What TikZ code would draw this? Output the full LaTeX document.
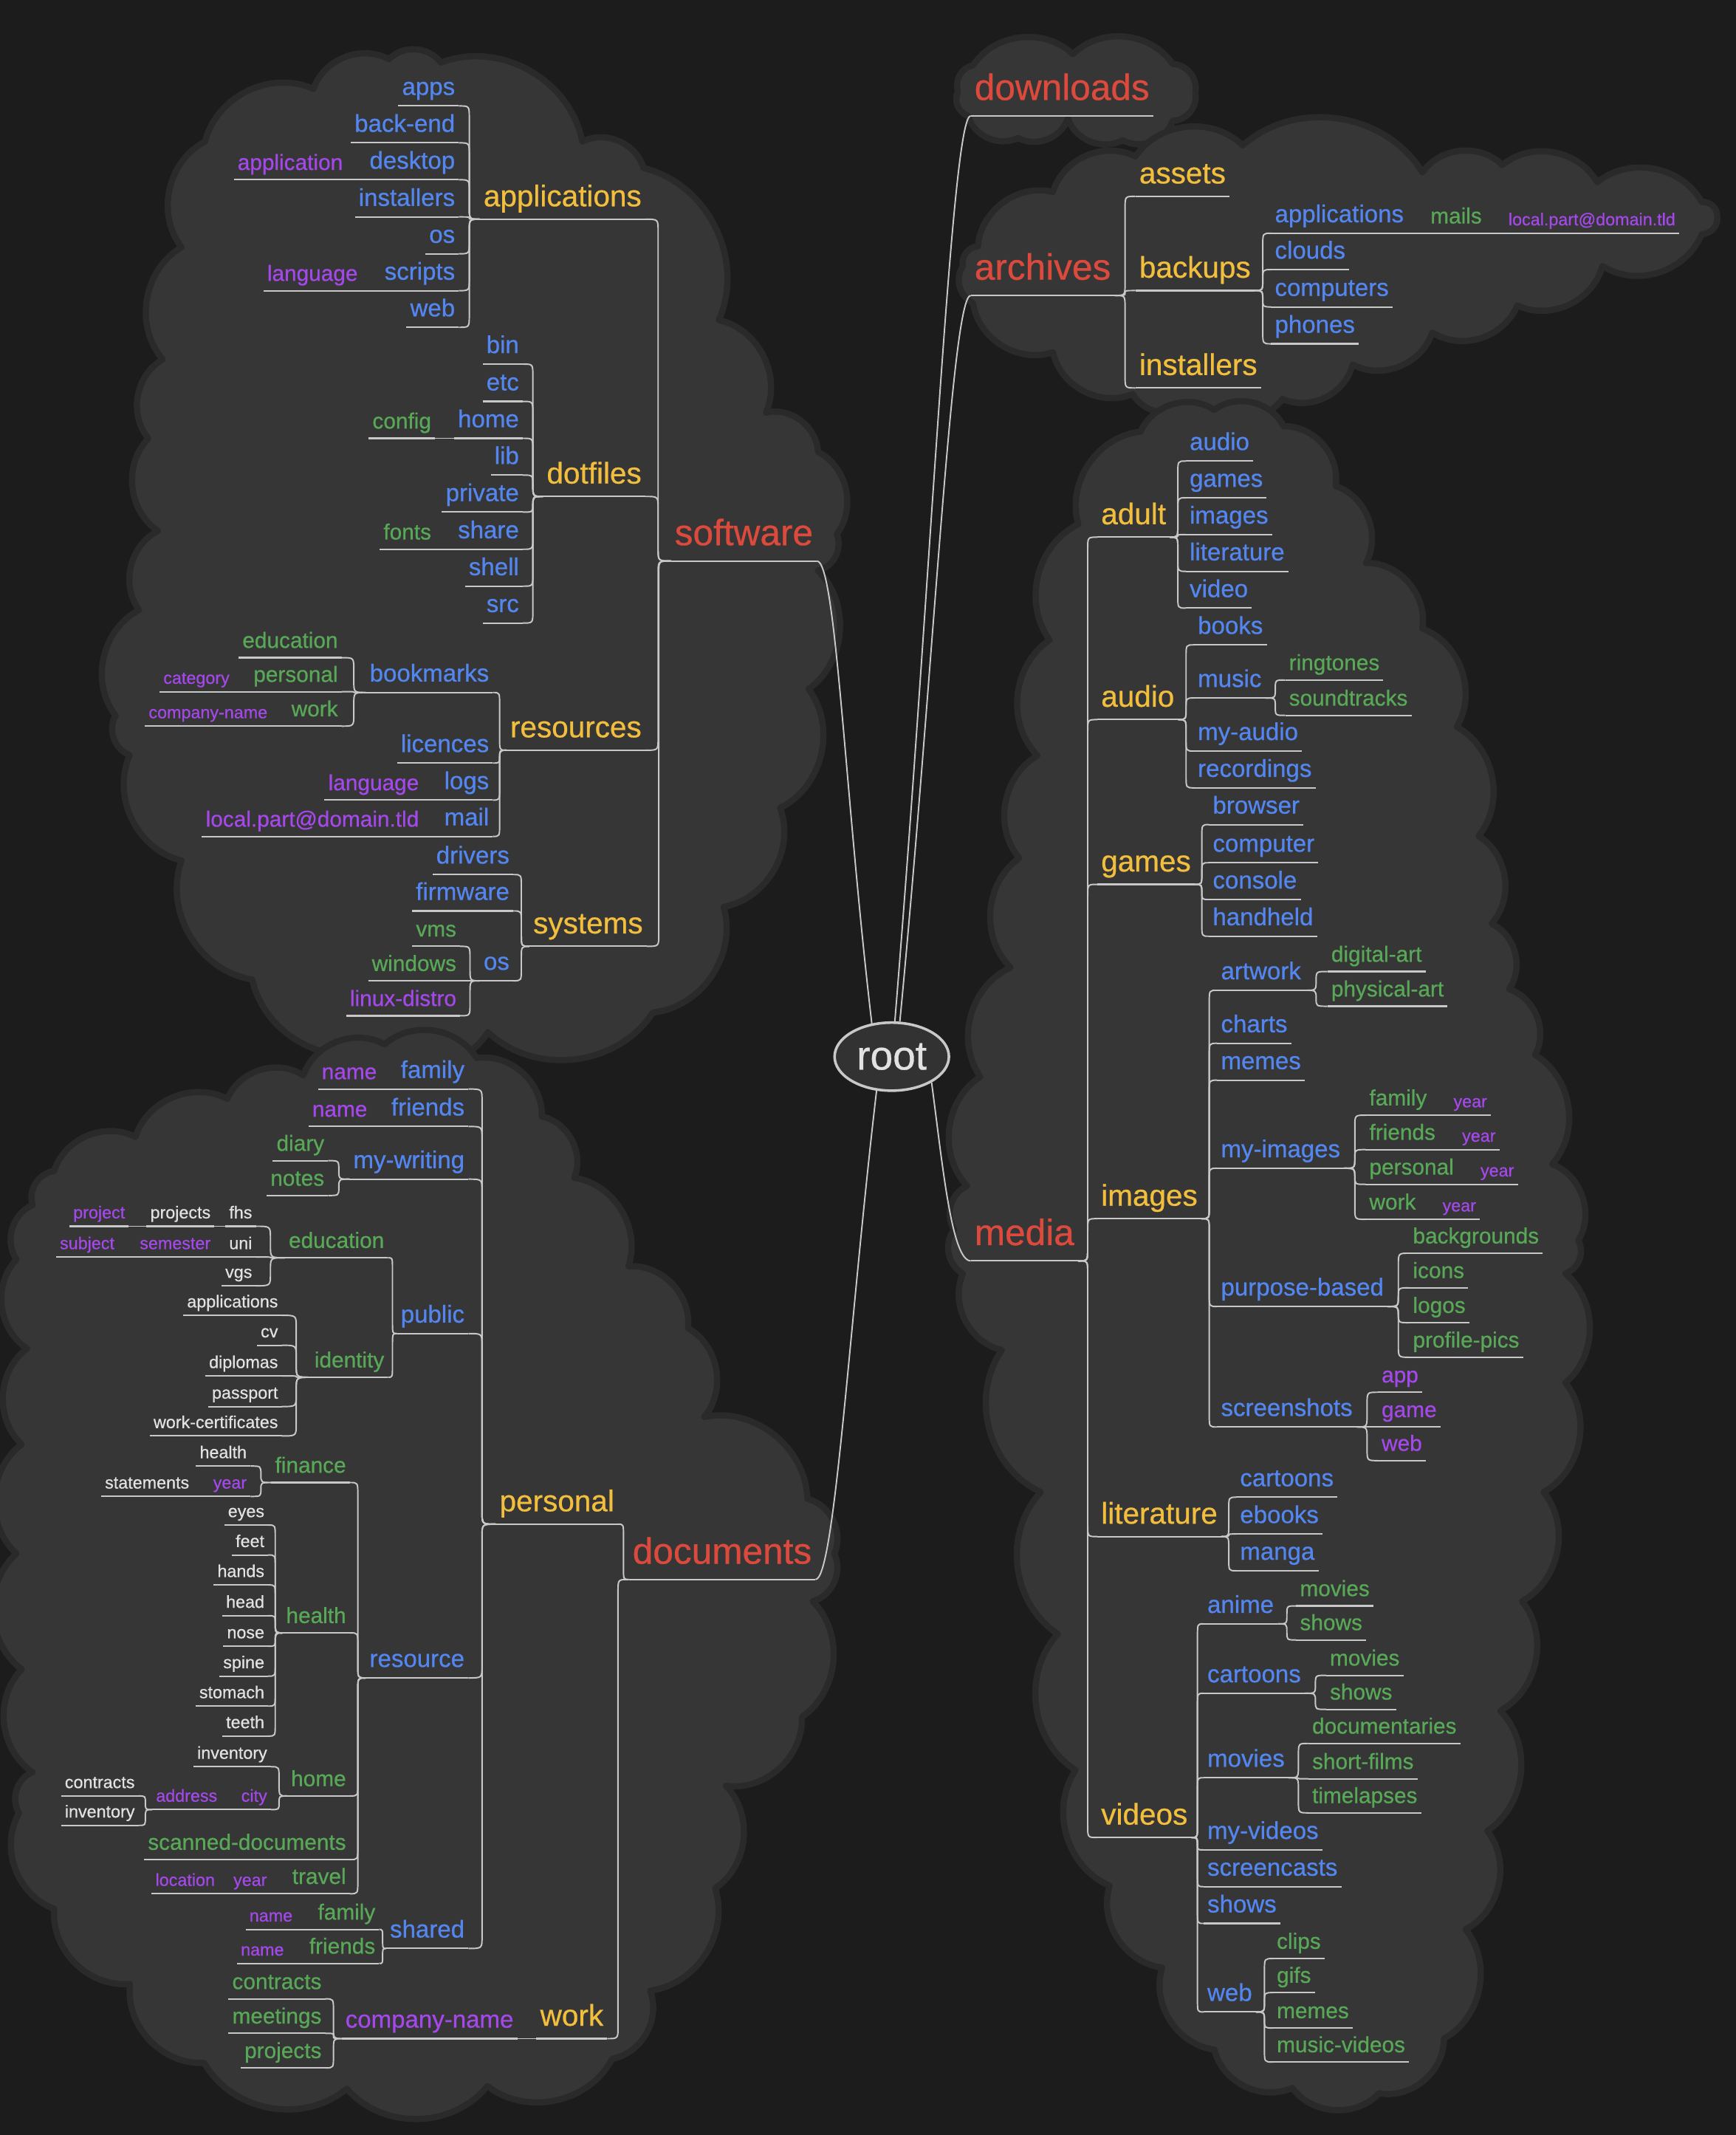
\documentclass[tikz,border=0pt]{standalone}
\usepackage{fontspec}
\setmainfont{Liberation Sans}[UprightFeatures={FakeBold=0.6}]
\usetikzlibrary{calc,positioning,shapes.geometric}
\definecolor{mmbg}{RGB}{28,28,28}
\definecolor{mmcloud}{RGB}{54,54,54}
\definecolor{mmrim}{RGB}{42,42,42}
\definecolor{mmwire}{RGB}{200,200,200}
\definecolor{mmred}{RGB}{219,74,60}
\definecolor{mmyellow}{RGB}{241,190,62}
\definecolor{mmblue}{RGB}{84,134,240}
\definecolor{mmgreen}{RGB}{88,168,88}
\definecolor{mmpurple}{RGB}{164,72,234}
\definecolor{mmwhite}{RGB}{226,226,226}
\definecolor{mmroot}{RGB}{50,50,50}
\tikzset{
  uline/.style={draw=mmwire,line width=0.65pt},
  wire/.style={draw=mmwire,line width=0.6pt},
  tag/.style={inner xsep=1.4pt,inner ysep=0pt,
    append after command={\pgfextra{\draw[uline] (\tikzlastnode.south west) -- (\tikzlastnode.south east);}}},
  lt/.style={tag,anchor=south east},
  rt/.style={tag,anchor=south west},
  lone/.style={font=\fontsize{15.3}{18}\selectfont,text depth=6.4pt,text=mmred},
  ltwo/.style={font=\fontsize{12.5}{15}\selectfont,text depth=5.2pt,text=mmyellow},
  lthree/.style={font=\fontsize{10.2}{12}\selectfont,text depth=4.4pt,text=mmblue},
  lfour/.style={font=\fontsize{9.2}{11}\selectfont,text depth=3.9pt,text=mmgreen},
  lfive/.style={font=\fontsize{7.2}{9}\selectfont,text depth=3.1pt,text=mmwhite},
  vpur/.style={text=mmpurple},
  link/.style={wire,to path={let \p1=(\tikztostart), \p2=(\tikztotarget),
      \n1={(\x2-\x1)/2}, \n2={ifthenelse(\y2>\y1,1,-1)*min(5pt,abs(\y2-\y1)/2)} in
      .. controls (\x1+\n1,\y1) .. (\x1+\n1,\y1+\n2)
      -- (\x1+\n1,\y2-\n2)
      .. controls (\x1+\n1,\y2) .. (\tikztotarget)}},
  puff/.style={fill=mmcloud,draw=mmrim,line width=2.6pt,line join=round},
  rootnode/.style={ellipse,draw=mmwire,line width=1.1pt,fill=mmroot,text=mmwhite,
    minimum width=1.68cm,minimum height=1cm,inner sep=0pt,font=\fontsize{17}{20}\selectfont}
}

\begin{document}
\begin{tikzpicture}[x=0.02cm,y=-0.02cm]
  \useasboundingbox (0,0) rectangle (1275,1568);
  \fill[mmbg] (0,0) rectangle (1275,1568);

  % clouds
  \filldraw[puff] (285.7,43.5) \foreach \x/\y in {323.8/46,427.7/104,472.7/123.4,528/235,562.7/303,600.8/331.8,614.6/392.3,600.8/419,593.9/506,573/593.4,531.5/666,479.6/743.6,358.4/758,282.2/770,185.3/719.4,133.3/632,95.3/554.6,84.9/525.6,102.2/448,116/390,109/322,119.5/264,133.3/181.6,150.6/104,230.3/65.3,285.7/43.5} { to[bend left=50] (\x,\y) } -- cycle;
  \filldraw[puff] (282.5,767) \foreach \x/\y in {350/777,398/820,421.8/865,461.6/930,505.4/975.4,517.3/1040.6,593/1100.8,612.8/1141,597/1176,589/1261,533.2/1311.5,525.3/1386.8,477.5/1462,449.7/1512,358/1532,254.7/1534,150/1515,95.5/1457,39.8/1401.8,14/1331.6,23.9/1301.5,15.9/1226,12/1141,15.9/1060.7,19.9/990.4,12/925,23.9/885,39.8/860,99.5/835,167/807,222.8/789.7,282.5/767} { to[bend left=50] (\x,\y) } -- cycle;
  \filldraw[puff] (714.7,48) \foreach \x/\y in {788/39.8,861.4/47,878/67.9,861.4/88.7,824.7/103,784.4/86.9,747.7/101.3,711/85,703.7/67,714.7/48} { to[bend left=50] (\x,\y) } -- cycle;
  \filldraw[puff] (773.4,141) \foreach \x/\y in {833.9/114.9,912.8/106.8,1044.8/126.6,1103.5/121.2,1173.2/133.9,1250/148.4,1261.3/159,1250/171.9,1177/195.4,1114.5/224.3,1052/244.2,993.5/267.7,942/293,876/296.7,832/289.4,773.4/258.7,714.7/222.5,707.3/195.4,718.3/180.9,773.4/141} { to[bend left=50] (\x,\y) } -- cycle;
  \filldraw[puff] (837.8,317) \foreach \x/\y in {891.9/301,942.8/313,981/357,1003.3/413.4,1044.7/461.6,1070/533.8,1086/614,1095.6/678.4,1108.4/726.5,1127.5/774.7,1140.2/855,1159.3/911,1149.8/935.3,1149.8/1015.5,1133.8/1095.8,1118/1176,1102/1256.4,1092.5/1344.7,1076.5/1417,1060.6/1497.2,1012.9/1537.4,949.2/1533.4,891.9/1505.3,853.7/1445,815/1385,790/1300,777/1200,764.5/1095.8,735.9/991.5,707.2/935.3,700.9/903,710.4/871,720/790.8,742.3/710.5,748.6/630.2,762/555,771/470,792/385,837.8/317} { to[bend left=50] (\x,\y) } -- cycle;

  \node[rootnode] (root) at (655,776) {root};

  % software
  \node[lt,lone] (software) at (600,412) {software};
  \node[lt,ltwo] (applications) at (474,161) {applications};
  \node[lt,ltwo] (dotfiles) at (474,364.6) {dotfiles};
  \node[lt,ltwo] (resources) at (474,551) {resources};
  \node[lt,ltwo] (systems) at (475,695) {systems};
  \node[lt,lthree] (apps) at (337,77.8) {apps};
  \node[lt,lthree] (backend) at (337,104.9) {back-end};
  \node[lt,lthree] (desktop) at (337,132) {desktop};
  \node[lt,lthree] (installers) at (337,159.3) {installers};
  \node[lt,lthree] (appos) at (337,186.4) {os};
  \node[lt,lthree] (scripts) at (337,213.5) {scripts};
  \node[lt,lthree] (appweb) at (337,240.4) {web};
  \node[lt,lfour,vpur] (application) at ([xshift=-0.28cm]desktop.south west) {application};
  \node[lt,lfour,vpur] (sclang) at ([xshift=-0.28cm]scripts.south west) {language};
  \node[lt,lthree] (bin) at (384,267.4) {bin};
  \node[lt,lthree] (etc) at (384,294.8) {etc};
  \node[lt,lthree] (home) at (384,321.9) {home};
  \node[lt,lthree] (lib) at (384,348.9) {lib};
  \node[lt,lthree] (private) at (384,376.1) {private};
  \node[lt,lthree] (share) at (384,403.4) {share};
  \node[lt,lthree] (shell) at (384,430.5) {shell};
  \node[lt,lthree] (src) at (384,457.6) {src};
  \node[lt,lfour] (config) at ([xshift=-0.28cm]home.south west) {config};
  \node[lt,lfour] (fonts) at ([xshift=-0.28cm]share.south west) {fonts};
  \node[lt,lthree] (bookmarks) at (362,508.6) {bookmarks};
  \node[lt,lthree] (licences) at (362,560.4) {licences};
  \node[lt,lthree] (logs) at (362,587.6) {logs};
  \node[lt,lthree] (mail) at (362,614.3) {mail};
  \node[lt,lfour] (beducation) at (251,483) {education};
  \node[lt,lfour] (bpersonal) at (251,508) {personal};
  \node[lt,lfour] (bwork) at (251,533.3) {work};
  \node[lt,lfive,vpur] (category) at ([xshift=-0.24cm]bpersonal.south west) {category};
  \node[lt,lfive,vpur] (company) at ([xshift=-0.24cm]bwork.south west) {company-name};
  \node[lt,lfour,vpur] (language) at ([xshift=-0.26cm]logs.south west) {language};
  \node[lt,lfour,vpur] (localpart) at ([xshift=-0.26cm]mail.south west) {local.part@domain.tld};
  \node[lt,lthree] (drivers) at (377,642.3) {drivers};
  \node[lt,lthree] (firmware) at (377,669) {firmware};
  \node[lt,lthree] (sysos) at (377,720.3) {os};
  \node[lt,lfour] (vms) at (338,695) {vms};
  \node[lt,lfour] (windows) at (338,720.3) {windows};
  \node[lt,lfour,vpur] (linux) at (338,746) {linux-distro};

  % documents
  \node[lt,lone] (documents) at (599,1160) {documents};
  \node[lt,ltwo] (dpersonal) at (454,1119.4) {personal};
  \node[lt,ltwo] (dwork) at (446,1497.2) {work};
  \node[lt,lthree] (pfamily) at (344,799.8) {family};
  \node[lt,lthree] (pfriends) at (344,827.3) {friends};
  \node[lt,lthree] (mywriting) at (344,866) {my-writing};
  \node[lt,lthree] (public) at (344,979.4) {public};
  \node[lt,lthree] (resource) at (344,1232.3) {resource};
  \node[lt,lthree] (shared) at (344,1431) {shared};
  \node[lt,lfour,vpur] (pname1) at ([xshift=-0.24cm]pfamily.south west) {name};
  \node[lt,lfour,vpur] (pname2) at ([xshift=-0.24cm]pfriends.south west) {name};
  \node[lt,lfour] (diary) at (241,852.4) {diary};
  \node[lt,lfour] (notes) at (241,878) {notes};
  \node[lt,lfour] (deducation) at (285,923.7) {education};
  \node[lt,lfour] (identity) at (285,1011.5) {identity};
  \node[lt,lfive] (fhs) at (188,900.6) {fhs};
  \node[lt,lfive] (uni) at (188,923.2) {uni};
  \node[lt,lfive] (vgs) at (188,944.3) {vgs};
  \node[lt,lfive] (projects) at ([xshift=-0.16cm]fhs.south west) {projects};
  \node[lt,lfive,vpur] (project) at ([xshift=-0.26cm]projects.south west) {project};
  \node[lt,lfive,vpur] (semester) at ([xshift=-0.16cm]uni.south west) {semester};
  \node[lt,lfive,vpur] (subject) at ([xshift=-0.26cm]semester.south west) {subject};
  \node[lt,lfive] (iapps) at (207,966) {applications};
  \node[lt,lfive] (cv) at (207,988) {cv};
  \node[lt,lfive] (diplomas) at (207,1010.5) {diplomas};
  \node[lt,lfive] (passport) at (207,1033) {passport};
  \node[lt,lfive] (workcert) at (207,1054.6) {work-certificates};
  \node[lt,lfour] (finance) at (257,1088.8) {finance};
  \node[lt,lfour] (rhealth) at (257,1199.2) {health};
  \node[lt,lfour] (rhome) at (257,1319) {home};
  \node[lt,lfour] (scanned) at (257,1365.7) {scanned-documents};
  \node[lt,lfour] (travel) at (257,1390.8) {travel};
  \node[lt,lfive] (fhealth) at (184,1076.7) {health};
  \node[lt,lfive,vpur] (fyear) at (184,1099) {year};
  \node[lt,lfive] (statements) at ([xshift=-0.24cm]fyear.south west) {statements};
  \node[lt,lfive] (eyes) at (197,1120) {eyes};
  \node[lt,lfive] (feet) at (197,1142) {feet};
  \node[lt,lfive] (hands) at (197,1164) {hands};
  \node[lt,lfive] (head) at (197,1186.6) {head};
  \node[lt,lfive] (nose) at (197,1209) {nose};
  \node[lt,lfive] (spine) at (197,1231) {spine};
  \node[lt,lfive] (stomach) at (197,1253) {stomach};
  \node[lt,lfive] (teeth) at (197,1275) {teeth};
  \node[lt,lfive] (hinventory) at (199,1297.5) {inventory};
  \node[lt,lfive,vpur] (city) at (199,1329) {city};
  \node[lt,lfive,vpur] (address) at ([xshift=-0.24cm]city.south west) {address};
  \node[lt,lfive] (contracts) at ([shift={(-10,-10)}]address.south west) {contracts};
  \node[lt,lfive] (ainventory) at ([shift={(-10,11.6)}]address.south west) {inventory};
  \node[lt,lfive,vpur] (tyear) at ([xshift=-0.26cm]travel.south west) {year};
  \node[lt,lfive,vpur] (location) at ([xshift=-0.16cm]tyear.south west) {location};
  \node[lt,lfour] (sfamily) at (278.5,1417) {family};
  \node[lt,lfour] (sfriends) at (278.5,1442) {friends};
  \node[lt,lfive,vpur] (sname1) at ([xshift=-0.26cm]sfamily.south west) {name};
  \node[lt,lfive,vpur] (sname2) at ([xshift=-0.26cm]sfriends.south west) {name};
  \node[lt,lthree,vpur] (wcompany) at ([xshift=-0.28cm]dwork.south west) {company-name};
  \node[lt,lfour] (wcontracts) at (239,1468) {contracts};
  \node[lt,lfour] (meetings) at (239,1493.3) {meetings};
  \node[lt,lfour] (wprojects) at (239,1518.7) {projects};

  % downloads, archives
  \node[rt,lone] (downloads) at (713,85) {downloads};
  \node[rt,lone] (archives) at (713,217) {archives};
  \node[rt,ltwo] (assets) at (834,144.2) {assets};
  \node[rt,ltwo] (backups) at (834,213.4) {backups};
  \node[rt,ltwo] (ainstallers) at (834,284.9) {installers};
  \node[rt,lthree] (bapps) at (933.6,171.3) {applications};
  \node[rt,lthree] (clouds) at (933.6,198) {clouds};
  \node[rt,lthree] (computers) at (933.6,225.4) {computers};
  \node[rt,lthree] (phones) at (933.6,252.5) {phones};
  \node[rt,lfour] (mails) at ([xshift=0.28cm]bapps.south east) {mails};
  \node[rt,lfive,vpur] (amail) at ([xshift=0.28cm]mails.south east) {local.part@domain.tld};

  % media
  \node[rt,lone] (media) at (713,926) {media};
  \node[rt,ltwo] (adult) at (806,394.5) {adult};
  \node[rt,ltwo] (maudio) at (806,528.5) {audio};
  \node[rt,ltwo] (mgames) at (806,649.5) {games};
  \node[rt,ltwo] (mimages) at (806,895) {images};
  \node[rt,ltwo] (mlit) at (806,1128.5) {literature};
  \node[rt,ltwo] (videos) at (806,1349.5) {videos};
  \node[rt,lthree] (aaudio) at (871,338.6) {audio};
  \node[rt,lthree] (agames) at (871,365.6) {games};
  \node[rt,lthree] (aimages) at (871,392.6) {images};
  \node[rt,lthree] (alit) at (871,419.6) {literature};
  \node[rt,lthree] (avideo) at (871,446.6) {video};
  \node[rt,lthree] (books) at (877,473.6) {books};
  \node[rt,lthree] (music) at (877,512.6) {music};
  \node[rt,lthree] (myaudio) at (877,551.6) {my-audio};
  \node[rt,lthree] (recordings) at (877,578.6) {recordings};
  \node[rt,lfour] (ringtones) at (944,499.4) {ringtones};
  \node[rt,lfour] (soundtracks) at (944,525.4) {soundtracks};
  \node[rt,lthree] (browser) at (888,605.6) {browser};
  \node[rt,lthree] (computer) at (888,633.6) {computer};
  \node[rt,lthree] (console) at (888,660.6) {console};
  \node[rt,lthree] (handheld) at (888,687.6) {handheld};
  \node[rt,lthree] (artwork) at (894,727.3) {artwork};
  \node[rt,lthree] (charts) at (894,766.2) {charts};
  \node[rt,lthree] (memes) at (894,793.3) {memes};
  \node[rt,lthree] (myimages) at (894,858) {my-images};
  \node[rt,lthree] (purpose) at (894,959.5) {purpose-based};
  \node[rt,lthree] (screenshots) at (894,1048) {screenshots};
  \node[rt,lfour] (digitalart) at (975,713.5) {digital-art};
  \node[rt,lfour] (physicalart) at (975,739) {physical-art};
  \node[rt,lfour] (ifamily) at (1003,819) {family};
  \node[rt,lfour] (ifriends) at (1003,844.3) {friends};
  \node[rt,lfour] (ipersonal) at (1003,869.8) {personal};
  \node[rt,lfour] (iwork) at (1003,895.5) {work};
  \foreach \up in {ifamily,ifriends,ipersonal,iwork}
    \node[rt,lfive,vpur] (y\up) at ([xshift=0.28cm]\up.south east) {year};
  \node[rt,lfour] (backgrounds) at (1035,920.4) {backgrounds};
  \node[rt,lfour] (icons) at (1035,945.8) {icons};
  \node[rt,lfour] (logos) at (1035,971.4) {logos};
  \node[rt,lfour] (profilepics) at (1035,996.8) {profile-pics};
  \node[rt,lfour,vpur] (sapp) at (1012,1022.5) {app};
  \node[rt,lfour,vpur] (sgame) at (1012,1048) {game};
  \node[rt,lfour,vpur] (sweb) at (1012,1072.7) {web};
  \node[rt,lthree] (lcartoons) at (908,1099.6) {cartoons};
  \node[rt,lthree] (ebooks) at (908,1126.6) {ebooks};
  \node[rt,lthree] (manga) at (908,1153.6) {manga};
  \node[rt,lthree] (anime) at (884,1192.6) {anime};
  \node[rt,lthree] (vcartoons) at (884,1243.6) {cartoons};
  \node[rt,lthree] (vmovies) at (884,1305.6) {movies};
  \node[rt,lthree] (myvideos) at (884,1358.6) {my-videos};
  \node[rt,lthree] (screencasts) at (884,1385.6) {screencasts};
  \node[rt,lthree] (vshows) at (884,1412.6) {shows};
  \node[rt,lthree] (vweb) at (884,1477.6) {web};
  \node[rt,lfour] (amovies) at (952,1179.4) {movies};
  \node[rt,lfour] (ashows) at (952,1204.4) {shows};
  \node[rt,lfour] (cmovies) at (974,1230.4) {movies};
  \node[rt,lfour] (cshows) at (974,1255.4) {shows};
  \node[rt,lfour] (documentaries) at (961,1280.4) {documentaries};
  \node[rt,lfour] (shortfilms) at (961,1306.4) {short-films};
  \node[rt,lfour] (timelapses) at (961,1331.4) {timelapses};
  \node[rt,lfour] (clips) at (935,1438.4) {clips};
  \node[rt,lfour] (gifs) at (935,1463.4) {gifs};
  \node[rt,lfour] (wmemes) at (935,1489.4) {memes};
  \node[rt,lfour] (musicvideos) at (935,1514.4) {music-videos};

  % connectors from root
  \draw[wire] (root.121) .. controls +(-20,-170) and +(14,0) .. (software.south east);
  \draw[wire] (root.246) .. controls +(-20,170) and +(14,0) .. (documents.south east);
  \draw[wire] (root.85) .. controls +(27,-330) and +(-14,0) .. (downloads.south west);
  \draw[wire] (root.77) .. controls +(25,-260) and +(-14,0) .. (archives.south west);
  \draw[wire] (root.327) .. controls +(8,60) and +(-14,0) .. (media.south west);

  % left side
  \foreach \c in {applications,dotfiles,resources,systems}
    \draw[link] (\c.south east) to (software.south west);
  \foreach \c in {apps,backend,desktop,installers,appos,scripts,appweb}
    \draw[link] (\c.south east) to (applications.south west);
  \foreach \c in {bin,etc,home,lib,private,share,shell,src}
    \draw[link] (\c.south east) to (dotfiles.south west);
  \foreach \c in {bookmarks,licences,logs,mail}
    \draw[link] (\c.south east) to (resources.south west);
  \foreach \c in {beducation,bpersonal,bwork}
    \draw[link] (\c.south east) to (bookmarks.south west);
  \foreach \c in {drivers,firmware,sysos}
    \draw[link] (\c.south east) to (systems.south west);
  \foreach \c in {vms,windows,linux}
    \draw[link] (\c.south east) to (sysos.south west);
  \foreach \c/\up in {application/desktop,sclang/scripts,config/home,fonts/share,category/bpersonal,company/bwork,language/logs,localpart/mail}
    \draw[link] (\c.south east) to (\up.south west);

  \foreach \c in {dpersonal,dwork}
    \draw[link] (\c.south east) to (documents.south west);
  \foreach \c in {pfamily,pfriends,mywriting,public,resource,shared}
    \draw[link] (\c.south east) to (dpersonal.south west);
  \foreach \c in {diary,notes}
    \draw[link] (\c.south east) to (mywriting.south west);
  \foreach \c in {deducation,identity}
    \draw[link] (\c.south east) to (public.south west);
  \foreach \c in {fhs,uni,vgs}
    \draw[link] (\c.south east) to (deducation.south west);
  \foreach \c in {iapps,cv,diplomas,passport,workcert}
    \draw[link] (\c.south east) to (identity.south west);
  \foreach \c in {finance,rhealth,rhome,scanned,travel}
    \draw[link] (\c.south east) to (resource.south west);
  \foreach \c in {fhealth,fyear}
    \draw[link] (\c.south east) to (finance.south west);
  \foreach \c in {eyes,feet,hands,head,nose,spine,stomach,teeth}
    \draw[link] (\c.south east) to (rhealth.south west);
  \foreach \c in {hinventory,city}
    \draw[link] (\c.south east) to (rhome.south west);
  \foreach \c in {contracts,ainventory}
    \draw[link] (\c.south east) to (address.south west);
  \foreach \c in {sfamily,sfriends}
    \draw[link] (\c.south east) to (shared.south west);
  \foreach \c in {wcontracts,meetings,wprojects}
    \draw[link] (\c.south east) to (wcompany.south west);
  \foreach \c/\up in {pname1/pfamily,pname2/pfriends,projects/fhs,project/projects,semester/uni,subject/semester,statements/fyear,address/city,tyear/travel,location/tyear,sname1/sfamily,sname2/sfriends,wcompany/dwork}
    \draw[link] (\c.south east) to (\up.south west);

  % right side
  \foreach \up/\c in {archives/assets,archives/backups,archives/ainstallers,backups/bapps,backups/clouds,backups/computers,backups/phones,bapps/mails,mails/amail}
    \draw[link] (\up.south east) to (\c.south west);
  \foreach \c in {adult,maudio,mgames,mimages,mlit,videos}
    \draw[link] (media.south east) to (\c.south west);
  \foreach \c in {aaudio,agames,aimages,alit,avideo}
    \draw[link] (adult.south east) to (\c.south west);
  \foreach \c in {books,music,myaudio,recordings}
    \draw[link] (maudio.south east) to (\c.south west);
  \foreach \c in {ringtones,soundtracks}
    \draw[link] (music.south east) to (\c.south west);
  \foreach \c in {browser,computer,console,handheld}
    \draw[link] (mgames.south east) to (\c.south west);
  \foreach \c in {artwork,charts,memes,myimages,purpose,screenshots}
    \draw[link] (mimages.south east) to (\c.south west);
  \foreach \c in {digitalart,physicalart}
    \draw[link] (artwork.south east) to (\c.south west);
  \foreach \c in {ifamily,ifriends,ipersonal,iwork}{
    \draw[link] (myimages.south east) to (\c.south west);
    \draw[link] (\c.south east) to (y\c.south west);
  }
  \foreach \c in {backgrounds,icons,logos,profilepics}
    \draw[link] (purpose.south east) to (\c.south west);
  \foreach \c in {sapp,sgame,sweb}
    \draw[link] (screenshots.south east) to (\c.south west);
  \foreach \c in {lcartoons,ebooks,manga}
    \draw[link] (mlit.south east) to (\c.south west);
  \foreach \c in {anime,vcartoons,vmovies,myvideos,screencasts,vshows,vweb}
    \draw[link] (videos.south east) to (\c.south west);
  \foreach \up/\c in {anime/amovies,anime/ashows,vcartoons/cmovies,vcartoons/cshows,vmovies/documentaries,vmovies/shortfilms,vmovies/timelapses,vweb/clips,vweb/gifs,vweb/wmemes,vweb/musicvideos}
    \draw[link] (\up.south east) to (\c.south west);
\end{tikzpicture}
\end{document}
